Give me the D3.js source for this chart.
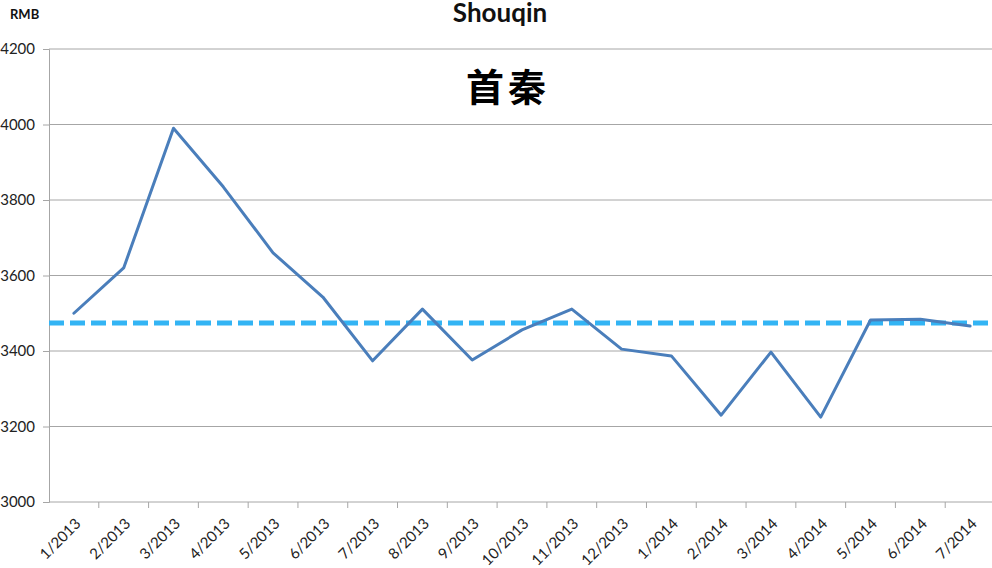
<script src="https://d3js.org/d3.v7.min.js"></script>
<style>
  body { margin: 0; background: #fff; }
  svg { display: block; }
</style>
<div class="vis"></div>
<script>
    // months along the x axis
    var months = ["1/2013", "2/2013", "3/2013", "4/2013", "5/2013", "6/2013", "7/2013",
        "8/2013", "9/2013", "10/2013", "11/2013", "12/2013", "1/2014", "2/2014",
        "3/2014", "4/2014", "5/2014", "6/2014", "7/2014"];
    // price, RMB
    var prices = [3500, 3620, 3990, 3835, 3660, 3543, 3374, 3511, 3376, 3456,
        3511, 3405, 3387, 3230, 3397, 3225, 3482, 3484, 3466];
    var avgLine = 3474;
    var yTicks = [3000, 3200, 3400, 3600, 3800, 4000, 4200];
    var title = "Shouqin";
    var subtitle = "首秦";
    var unit = "RMB";

    var width = 992, height = 568;
    var margin = { top: 49, right: -3, bottom: 66, left: 49 };

    var x = d3.scaleBand()
        .domain(months)
        .range([margin.left, width - margin.right]);

    var y = d3.scaleLinear()
        .domain([3000, 4200])
        .range([height - margin.bottom, margin.top]);

    var svg = d3.select('.vis')
        .append("svg")
        .attr("width", width)
        .attr("height", height);

    var font = "Lato, 'Open Sans', sans-serif";

    // gridlines
    svg.append("g")
        .selectAll("line")
        .data(yTicks.slice(1))
        .join("line")
        .attr("x1", margin.left)
        .attr("x2", width)
        .attr("y1", d => y(d))
        .attr("y2", d => y(d))
        .attr("stroke", "#a6a6a6")
        .attr("stroke-width", 1);

    // y axis
    var yAxis = svg.append("g")
        .attr("transform", `translate(${margin.left},0)`)
        .call(d3.axisLeft(y).tickValues(yTicks).tickSize(6).tickPadding(8).tickFormat(d3.format("d")));
    yAxis.select(".domain").attr("stroke", "#a6a6a6");
    yAxis.selectAll(".tick line").attr("stroke", "#a6a6a6");
    yAxis.selectAll(".tick text")
        .attr("font-family", font)
        .attr("font-size", 15)
        .attr("fill", "#222");

    // x axis (ticks at category boundaries)
    var xAxis = svg.append("g")
        .attr("transform", `translate(0,${y(3000)})`);
    xAxis.append("line")
        .attr("x1", margin.left).attr("x2", width)
        .attr("stroke", "#a6a6a6");
    xAxis.selectAll(".bt")
        .data(months)
        .join("line")
        .attr("class", "bt")
        .attr("x1", d => x(d) + x.bandwidth())
        .attr("x2", d => x(d) + x.bandwidth())
        .attr("y1", 0).attr("y2", 6)
        .attr("stroke", "#a6a6a6");
    xAxis.selectAll("text")
        .data(months)
        .join("text")
        .attr("transform", d => `translate(${x(d) + x.bandwidth() / 2 + 4},${19}) rotate(-45)`)
        .attr("text-anchor", "end")
        .attr("dy", "0.35em")
        .attr("font-family", font)
        .attr("font-size", 15)
        .attr("fill", "#222")
        .text(d => d);

    // average dashed line
    svg.append("line")
        .attr("x1", margin.left)
        .attr("x2", width)
        .attr("y1", y(avgLine))
        .attr("y2", y(avgLine))
        .attr("stroke", "#33b4f4")
        .attr("stroke-width", 5)
        .attr("stroke-dasharray", "15,6");

    // price line
    var line = d3.line()
        .x((d, i) => x(months[i]) + x.bandwidth() / 2)
        .y(d => y(d));

    svg.append("path")
        .datum(prices)
        .attr("d", line)
        .attr("fill", "none")
        .attr("stroke", "#4a7ebb")
        .attr("stroke-width", 3)
        .attr("stroke-linejoin", "round")
        .attr("stroke-linecap", "round");

    // titles
    svg.append("text")
        .attr("x", 500)
        .attr("y", 22)
        .attr("text-anchor", "middle")
        .attr("font-family", font)
        .attr("font-weight", "bold")
        .attr("font-size", 26)
        .attr("fill", "#111")
        .text(title);

    svg.append("text")
        .attr("x", 508)
        .attr("y", 101)
        .attr("text-anchor", "middle")
        .attr("font-family", "'Noto Sans CJK SC'")
        .attr("font-weight", "bold")
        .attr("font-size", 38)
        .attr("letter-spacing", 4)
        .attr("fill", "#000")
        .text(subtitle);

    svg.append("text")
        .attr("x", 10)
        .attr("y", 19)
        .attr("font-family", font)
        .attr("font-weight", "bold")
        .attr("font-size", 13)
        .attr("fill", "#111")
        .text(unit);
</script>
